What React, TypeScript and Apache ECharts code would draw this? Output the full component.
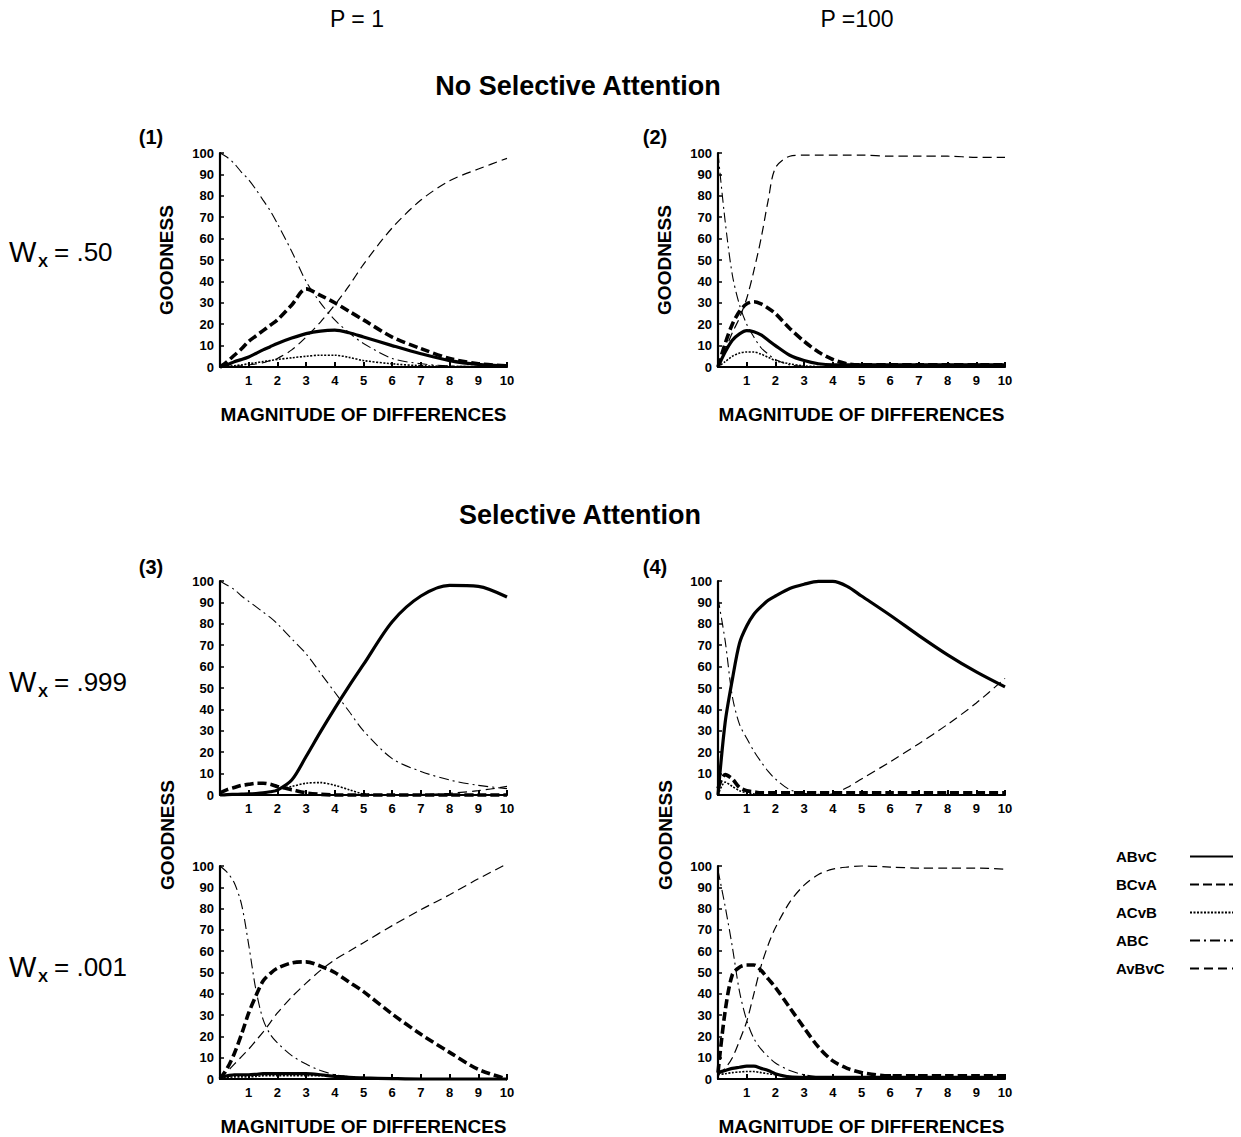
import React, { useEffect, useRef } from "react";
import * as echarts from "echarts";

const FONT = "'Liberation Sans', Arial, Helvetica, sans-serif";

const XS = [0, 0.25, 0.5, 0.75, 1, 1.25, 1.5, 1.75, 2, 2.5, 3, 3.5, 4, 4.5, 5, 6, 7, 8, 9, 10];
const SERIES_NAMES = ["ABvC", "BCvA", "ACvB", "ABC", "AvBvC"];

// Panel 1: P = 1, Wx = .50
const p1_ABvC = [0, 1, 2.5, 3.5, 4.7, 6.3, 8, 9.5, 11, 13.5, 15.6, 16.8, 17.2, 16, 14, 10, 6.2, 3, 1.2, 0.5];
const p1_BCvA = [0, 2.5, 5.5, 8.5, 12, 14.5, 17, 19.5, 22, 29, 36.5, 33.5, 30, 26, 22, 14, 8.6, 4, 1.5, 0.5];
const p1_ACvB = [0, 0.3, 0.6, 1, 1.5, 2, 2.5, 3, 3.5, 4.3, 5, 5.5, 5.5, 4.5, 3, 1.5, 0.6, 0.3, 0.2, 0.1];
const p1_ABC = [100, 98, 95, 91, 87.5, 83, 78, 73, 67, 54, 40, 30, 22, 16, 11, 4, 1.5, 0.5, 0.2, 0];
const p1_AvBvC = [0, 0, 0.2, 0.5, 1, 1.4, 2, 3, 4, 8, 14, 21, 29, 38, 48, 65, 78, 87, 92.5, 97.5];

// Panel 2: P = 100, Wx = .50
const p2_ABvC = [0, 7, 12.5, 15.5, 17, 16.5, 15, 12.5, 10, 5.5, 3, 1.5, 1, 1, 1, 1, 1, 1, 1, 1];
const p2_BCvA = [0, 11, 20, 26, 29.5, 30.5, 29.5, 27.5, 25, 18, 12, 7, 3.5, 1.5, 1, 1, 1, 1, 1, 1];
const p2_ACvB = [0, 2.5, 5, 6.5, 7, 7, 6, 4.5, 3, 1.5, 0.5, 0.2, 0, 0, 0, 0, 0, 0, 0, 0];
const p2_ABC = [100, 68, 43, 29, 20, 14, 9, 6, 3.5, 1, 0.3, 0, 0, 0, 0, 0, 0, 0, 0, 0];
const p2_AvBvC = [0, 8, 16, 23, 32, 45, 60, 78, 93, 98.5, 99, 99, 99, 99, 99, 98.5, 98.5, 98.5, 98, 98];

// Panel 3 (top): P = 1, Wx = .999
const p3a_ABvC = [0, 0.2, 0.3, 0.4, 0.5, 0.7, 1, 1.5, 2.3, 7, 18, 29.5, 40.5, 51, 61, 81, 93, 98, 97.5, 92.5];
const p3a_BCvA = [1, 2.5, 3.5, 4.5, 5, 5.5, 5.5, 5, 4, 2.5, 1, 0.3, 0, 0, 0, 0, 0, 0, 0, 0];
const p3a_ACvB = [0, 0, 0.1, 0.2, 0.4, 0.7, 1, 1.5, 2.5, 4, 5.5, 5.8, 4.5, 2.5, 0.5, 0, 0, 0, 0, 0];
const p3a_ABC = [100, 98, 96, 93, 90.5, 88, 85.5, 83, 80, 73, 66, 57, 48, 39, 30, 17, 11, 7, 4.5, 3];
const p3a_AvBvC = [0, 0, 0, 0, 0, 0, 0, 0, 0, 0, 0, 0, 0, 0, 0, 0, 0.2, 0.8, 2, 4];

// Panel 3 (bottom): P = 1, Wx = .001
const p3b_ABvC = [1, 1.5, 2, 2, 2, 2.2, 2.5, 2.5, 2.5, 2.5, 2.5, 2, 1.2, 0.8, 0.5, 0.2, 0, 0, 0, 0];
const p3b_BCvA = [0, 5, 12, 21, 31, 39, 46, 49.5, 52, 54.5, 55, 53, 50, 45.5, 41, 30.5, 21, 12.5, 4.5, 0];
const p3b_ACvB = [0.5, 0.7, 1, 1, 1, 1.2, 1.5, 1.5, 1.5, 1.5, 1.5, 1.5, 1.5, 1, 0.5, 0.2, 0, 0, 0, 0];
const p3b_ABC = [100, 97, 92, 82, 63, 42, 28, 21, 17, 11, 7, 4, 2, 1, 0.5, 0, 0, 0, 0, 0];
const p3b_AvBvC = [0, 3.5, 7, 10.5, 14, 18, 22, 26.5, 31, 38.5, 45, 51, 56, 60, 64, 72, 79.5, 86.5, 94, 101];

// Panel 4 (top): P = 100, Wx = .999
const p4a_ABvC = [0, 34, 54, 71, 79, 84.5, 88, 91, 93, 96.5, 98.5, 99.8, 99.8, 97.5, 93, 84, 74.5, 65.5, 57.5, 50.5];
const p4a_BCvA = [3, 9.5, 7.5, 3.5, 2, 1.5, 1, 1, 1, 1, 1, 1, 1, 1, 1, 1, 1, 1, 1, 1];
const p4a_ACvB = [0, 6, 4, 2, 1, 0.5, 0.2, 0, 0, 0, 0, 0, 0, 0, 0, 0, 0, 0, 0, 0];
const p4a_ABC = [92, 72, 46, 33, 26.5, 20.5, 15.5, 11, 7.5, 2.5, 0.8, 0.3, 0, 0, 0, 0, 0, 0, 0, 0];
const p4a_AvBvC = [0, 0, 0, 0, 0, 0, 0, 0, 0, 0, 0, 0, 0.5, 3.5, 7.5, 15.5, 24, 33, 43, 54.5];

// Panel 4 (bottom): P = 100, Wx = .001
const p4b_ABvC = [3, 4, 5, 5.5, 6, 6, 5, 4, 2.5, 1, 0.8, 0.8, 0.8, 0.8, 0.8, 0.8, 0.8, 0.8, 0.8, 0.8];
const p4b_BCvA = [3, 32, 49, 52.5, 53.5, 53.5, 51, 47, 43, 33.5, 24, 15, 8.5, 5, 3, 1.5, 1.5, 1.5, 1.5, 1.5];
const p4b_ACvB = [2, 2.5, 3, 3.3, 3.5, 3.5, 3, 2.5, 2, 1, 0.3, 0, 0, 0, 0, 0, 0, 0, 0, 0];
const p4b_ABC = [98, 81, 62, 41, 27.5, 19, 14, 10.5, 7.5, 4, 2, 1, 0.5, 0.2, 0, 0, 0, 0, 0, 0];
const p4b_AvBvC = [2, 5, 10, 18, 27, 40, 53, 63, 71, 83, 91, 96, 98.5, 99.5, 100, 99.5, 99, 99, 99, 98.5];

const PANELS = [
  [p1_ABvC, p1_BCvA, p1_ACvB, p1_ABC, p1_AvBvC],
  [p2_ABvC, p2_BCvA, p2_ACvB, p2_ABC, p2_AvBvC],
  [p3a_ABvC, p3a_BCvA, p3a_ACvB, p3a_ABC, p3a_AvBvC],
  [p4a_ABvC, p4a_BCvA, p4a_ACvB, p4a_ABC, p4a_AvBvC],
  [p3b_ABvC, p3b_BCvA, p3b_ACvB, p3b_ABC, p3b_AvBvC],
  [p4b_ABvC, p4b_BCvA, p4b_ACvB, p4b_ABC, p4b_AvBvC],
];

const LINE_STYLES: Record<string, any> = {
  ABvC: { width: 3.2, type: "solid" },
  BCvA: { width: 3.6, type: [9, 4] },
  ACvB: { width: 1.6, type: [2, 1.5] },
  ABC: { width: 1.1, type: [10, 4, 2, 4] },
  AvBvC: { width: 1.2, type: [9, 5] },
};

const GRID_POS = [
  { left: 220, top: 153 },
  { left: 718, top: 153 },
  { left: 220, top: 581 },
  { left: 718, top: 581 },
  { left: 220, top: 866 },
  { left: 718, top: 866 },
];
const X_NAME_GRIDS = [0, 1, 4, 5];
const Y_NAME_GRIDS = [0, 1];

export default function App() {
  const ref = useRef<HTMLDivElement>(null);
  useEffect(() => {
    if (!ref.current) return;
    const chart = echarts.init(ref.current, null, { renderer: "svg" });
    const grids = GRID_POS.map((g) => ({ left: g.left, top: g.top, width: 287, height: 214 }));
    const xAxes = GRID_POS.map((_, i) => ({
      type: "value",
      gridIndex: i,
      min: 0,
      max: 10,
      interval: 1,
      axisLine: { show: true, lineStyle: { color: "#000", width: 2.2 } },
      axisTick: { show: true, inside: true, length: 5, lineStyle: { color: "#000", width: 2 } },
      axisLabel: {
        formatter: (v: number) => (v === 0 ? "" : String(v)),
        fontWeight: "bold",
        fontSize: 13,
        color: "#000",
        margin: 7,
        fontFamily: FONT,
      },
      splitLine: { show: false },
      name: X_NAME_GRIDS.includes(i) ? "MAGNITUDE OF DIFFERENCES" : "",
      nameLocation: "middle",
      nameGap: 38,
      nameTextStyle: { fontWeight: "bold", fontSize: 19, color: "#000", fontFamily: FONT },
    }));
    const yAxes = GRID_POS.map((_, i) => ({
      type: "value",
      gridIndex: i,
      min: 0,
      max: 100,
      interval: 10,
      axisLine: { show: true, lineStyle: { color: "#000", width: 2.2 } },
      axisTick: { show: true, inside: true, length: 4, lineStyle: { color: "#000", width: 1.5 } },
      axisLabel: { fontWeight: "bold", fontSize: 13, color: "#000", margin: 6, fontFamily: FONT },
      splitLine: { show: false },
      name: Y_NAME_GRIDS.includes(i) ? "GOODNESS" : "",
      nameLocation: "middle",
      nameRotate: 90,
      nameGap: 44,
      nameTextStyle: { fontWeight: "bold", fontSize: 19, color: "#000", fontFamily: FONT },
    }));
    const series: any[] = [];
    PANELS.forEach((panel, gi) => {
      panel.forEach((vals, si) => {
        const name = SERIES_NAMES[si];
        series.push({
          type: "line",
          name,
          xAxisIndex: gi,
          yAxisIndex: gi,
          data: XS.map((x, k) => [x, vals[k]]),
          smooth: 0.3,
          symbol: "none",
          clip: false,
          lineStyle: { color: "#000", ...LINE_STYLES[name] },
          itemStyle: { color: "#000" },
          z: 2 + si,
        });
      });
    });
    const txt = (x: number, y: number, text: string, size: number, weight: string, align = "center") => ({
      type: "text",
      x,
      y,
      style: {
        text,
        fontSize: size,
        fontWeight: weight,
        fontFamily: FONT,
        fill: "#000",
        textAlign: align,
        textVerticalAlign: "middle",
      },
    });
    const wLabel = (y: number, val: string) => [
      txt(9, y, "W", 29, "normal", "left"),
      txt(38, y + 9, "X", 15, "bold", "left"),
      txt(54, y, "= " + val, 26, "normal", "left"),
    ];
    const vText = (x: number, y: number) => ({
      type: "text",
      x,
      y,
      rotation: Math.PI / 2,
      style: { text: "GOODNESS", fontSize: 19, fontWeight: "bold", fontFamily: FONT, fill: "#000", textAlign: "center", textVerticalAlign: "middle" },
    });
    const graphic: any[] = [
      txt(357, 19, "P = 1", 23, "normal"),
      txt(857, 19, "P =100", 23, "normal"),
      txt(578, 86, "No Selective Attention", 27, "bold"),
      txt(580, 515, "Selective Attention", 27, "bold"),
      txt(151, 137, "(1)", 20, "bold"),
      txt(655, 137, "(2)", 20, "bold"),
      txt(151, 567, "(3)", 20, "bold"),
      txt(655, 567, "(4)", 20, "bold"),
      ...wLabel(252, ".50"),
      ...wLabel(682, ".999"),
      ...wLabel(967, ".001"),
      vText(167, 835),
      vText(665, 835),
    ];
    chart.setOption({
      animation: false,
      backgroundColor: "#fff",
      grid: grids,
      xAxis: xAxes,
      yAxis: yAxes,
      series,
      legend: {
        data: SERIES_NAMES,
        orient: "vertical",
        left: 1116,
        top: 849,
        padding: 0,
        align: "right",
        itemWidth: 43,
        itemHeight: 12,
        itemGap: 13,
        selectedMode: false,
        itemStyle: { opacity: 0 },
        formatter: "{a|{name}}",
        textStyle: {
          fontWeight: "bold",
          fontSize: 15,
          color: "#000",
          fontFamily: FONT,
          rich: { a: { width: 69, align: "left", fontWeight: "bold", fontSize: 15, fontFamily: FONT, color: "#000" } },
        },
      },
      graphic,
    });
    return () => chart.dispose();
  }, []);
  return <div ref={ref} style={{ position: "absolute", left: 0, top: 0, width: 1241, height: 1137 }} />;
}
